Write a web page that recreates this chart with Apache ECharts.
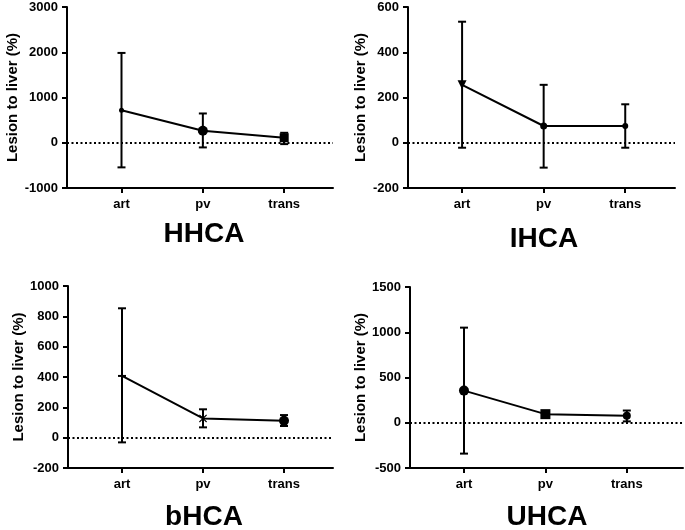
<!DOCTYPE html>
<html>
<head>
<meta charset="utf-8">
<script src="https://cdn.jsdelivr.net/npm/echarts@6/dist/echarts.min.js"></script>
<style>html,body{margin:0;padding:0;background:#fff;}#c{width:685px;height:530px;}</style>
</head>
<body>
<div id="c"></div>
<script>
const categories = ['art', 'pv', 'trans'];
const panelTitles = ['HHCA', 'IHCA', 'bHCA', 'UHCA'];
const yAxisTitle = 'Lesion to liver (%)';

const hhcaMean = [720, 265, 110];
const hhcaLow = [-544, -103, -30];
const hhcaHigh = [1985, 647, 220];

const ihcaMean = [256, 74, 74];
const ihcaLow = [-22, -110, -22];
const ihcaHigh = [535, 256, 170];

const bhcaMean = [407, 127, 112];
const bhcaLow = [-31, 68, 77];
const bhcaHigh = [853, 187, 149];

const uhcaMean = [355, 95, 77];
const uhcaLow = [-341, 65, 15];
const uhcaHigh = [1051, 125, 135];

const hhcaTicks = [-1000, 3000, 1000];
const ihcaTicks = [-200, 600, 200];
const bhcaTicks = [-200, 1000, 200];
const uhcaTicks = [-500, 1500, 500];

const FONT = 'Liberation Sans, Arial, Helvetica, sans-serif';
const crossPath = 'path://M0,1L1,0L5,4L9,0L10,1L6,5L10,9L9,10L5,6L1,10L0,9L4,5Z';

const panels = [
  { mean: hhcaMean, low: hhcaLow, high: hhcaHigh, ticks: hhcaTicks,
    grid: { left: 67, top: 7, width: 266, height: 181 }, xr: [0.33, 3.6],
    sym: [['circle', 5, 0], ['circle', 10, 0], ['rect', 9, 0]],
    title: [204, 234], nameX: 12 },
  { mean: ihcaMean, low: ihcaLow, high: ihcaHigh, ticks: ihcaTicks,
    grid: { left: 408, top: 7, width: 267, height: 181 }, xr: [0.337, 3.61],
    sym: [['triangle', 9, 180], ['circle', 7, 0], ['circle', 6, 0]],
    title: [544, 239], nameX: 357 },
  { mean: bhcaMean, low: bhcaLow, high: bhcaHigh, ticks: bhcaTicks,
    grid: { left: 68, top: 286, width: 265, height: 182 }, xr: [0.333, 3.605],
    sym: [['rect', [8, 2], 0], [crossPath, 8, 0], ['circle', 10, 0]],
    title: [204, 517], nameX: 15 },
  { mean: uhcaMean, low: uhcaLow, high: uhcaHigh, ticks: uhcaTicks,
    grid: { left: 410, top: 287, width: 273, height: 181 }, xr: [0.337, 3.69],
    sym: [['circle', 10, 0], ['rect', 10, 0], ['circle', 8, 0]],
    title: [547, 517], nameX: 358 }
];

const grids = [], xAxes = [], yAxes = [], series = [], graphics = [];

panels.forEach((p, i) => {
  grids.push(Object.assign({ containLabel: false }, p.grid));
  xAxes.push({
    type: 'value', gridIndex: i, min: p.xr[0], max: p.xr[1],
    splitLine: { show: false },
    axisLine: { show: true, onZero: false, lineStyle: { color: '#000', width: 2 } },
    axisTick: { show: true, customValues: [1, 2, 3], length: 5, lineStyle: { color: '#000', width: 2 } },
    axisLabel: { customValues: [1, 2, 3], margin: 10, color: '#000', fontSize: 13, fontWeight: 'bold', fontFamily: FONT,
      formatter: v => categories[Math.round(v) - 1] || '' }
  });
  yAxes.push({
    type: 'value', gridIndex: i, min: p.ticks[0], max: p.ticks[1], interval: p.ticks[2],
    name: yAxisTitle, nameLocation: 'middle', nameRotate: 90, nameGap: p.grid.left - p.nameX - 11,
    nameTextStyle: { color: '#000', fontSize: 15, fontWeight: 'bold', fontFamily: FONT },
    splitLine: { show: false },
    axisLine: { show: true, lineStyle: { color: '#000', width: 2 } },
    axisTick: { show: true, length: 5, lineStyle: { color: '#000', width: 2 } },
    axisLabel: { margin: 9, color: '#000', fontSize: 13, fontWeight: 'bold', fontFamily: FONT,
      formatter: v => String(v) }
  });
  series.push({
    type: 'custom', xAxisIndex: i, yAxisIndex: i, silent: true, z: 3,
    data: categories.map((c, k) => [k + 1, p.low[k], p.high[k]]),
    renderItem: (params, api) => {
      const x = api.value(0);
      const a = api.coord([x, api.value(1)]);
      const b = api.coord([x, api.value(2)]);
      const hw = 4;
      const st = { stroke: '#000', lineWidth: 2 };
      return { type: 'group', children: [
        { type: 'line', shape: { x1: a[0], y1: a[1], x2: b[0], y2: b[1] }, style: st },
        { type: 'line', shape: { x1: a[0] - hw, y1: a[1], x2: a[0] + hw, y2: a[1] }, style: st },
        { type: 'line', shape: { x1: b[0] - hw, y1: b[1], x2: b[0] + hw, y2: b[1] }, style: st }
      ] };
    }
  });
  series.push({
    type: 'line', xAxisIndex: i, yAxisIndex: i, z: 4,
    lineStyle: { color: '#000', width: 2 },
    itemStyle: { color: '#000' },
    data: categories.map((c, k) => ({
      value: [k + 1, p.mean[k]],
      symbol: p.sym[k][0], symbolSize: p.sym[k][1], symbolRotate: p.sym[k][2]
    })),
    markLine: {
      silent: true, symbol: 'none', label: { show: false },
      lineStyle: { color: '#000', width: 1.8, type: [2, 2.5] },
      data: [{ yAxis: 0 }]
    }
  });
  graphics.push({
    type: 'text', x: p.title[0], y: p.title[1],
    style: { text: panelTitles[i], fill: '#000', font: 'bold 28px ' + FONT, textAlign: 'center', textVerticalAlign: 'middle' }
  });
});

const chart = echarts.init(document.getElementById('c'), null, { renderer: 'canvas' });
chart.setOption({
  animation: false,
  backgroundColor: '#fff',
  grid: grids, xAxis: xAxes, yAxis: yAxes, series: series, graphic: graphics
});
</script>
</body>
</html>
